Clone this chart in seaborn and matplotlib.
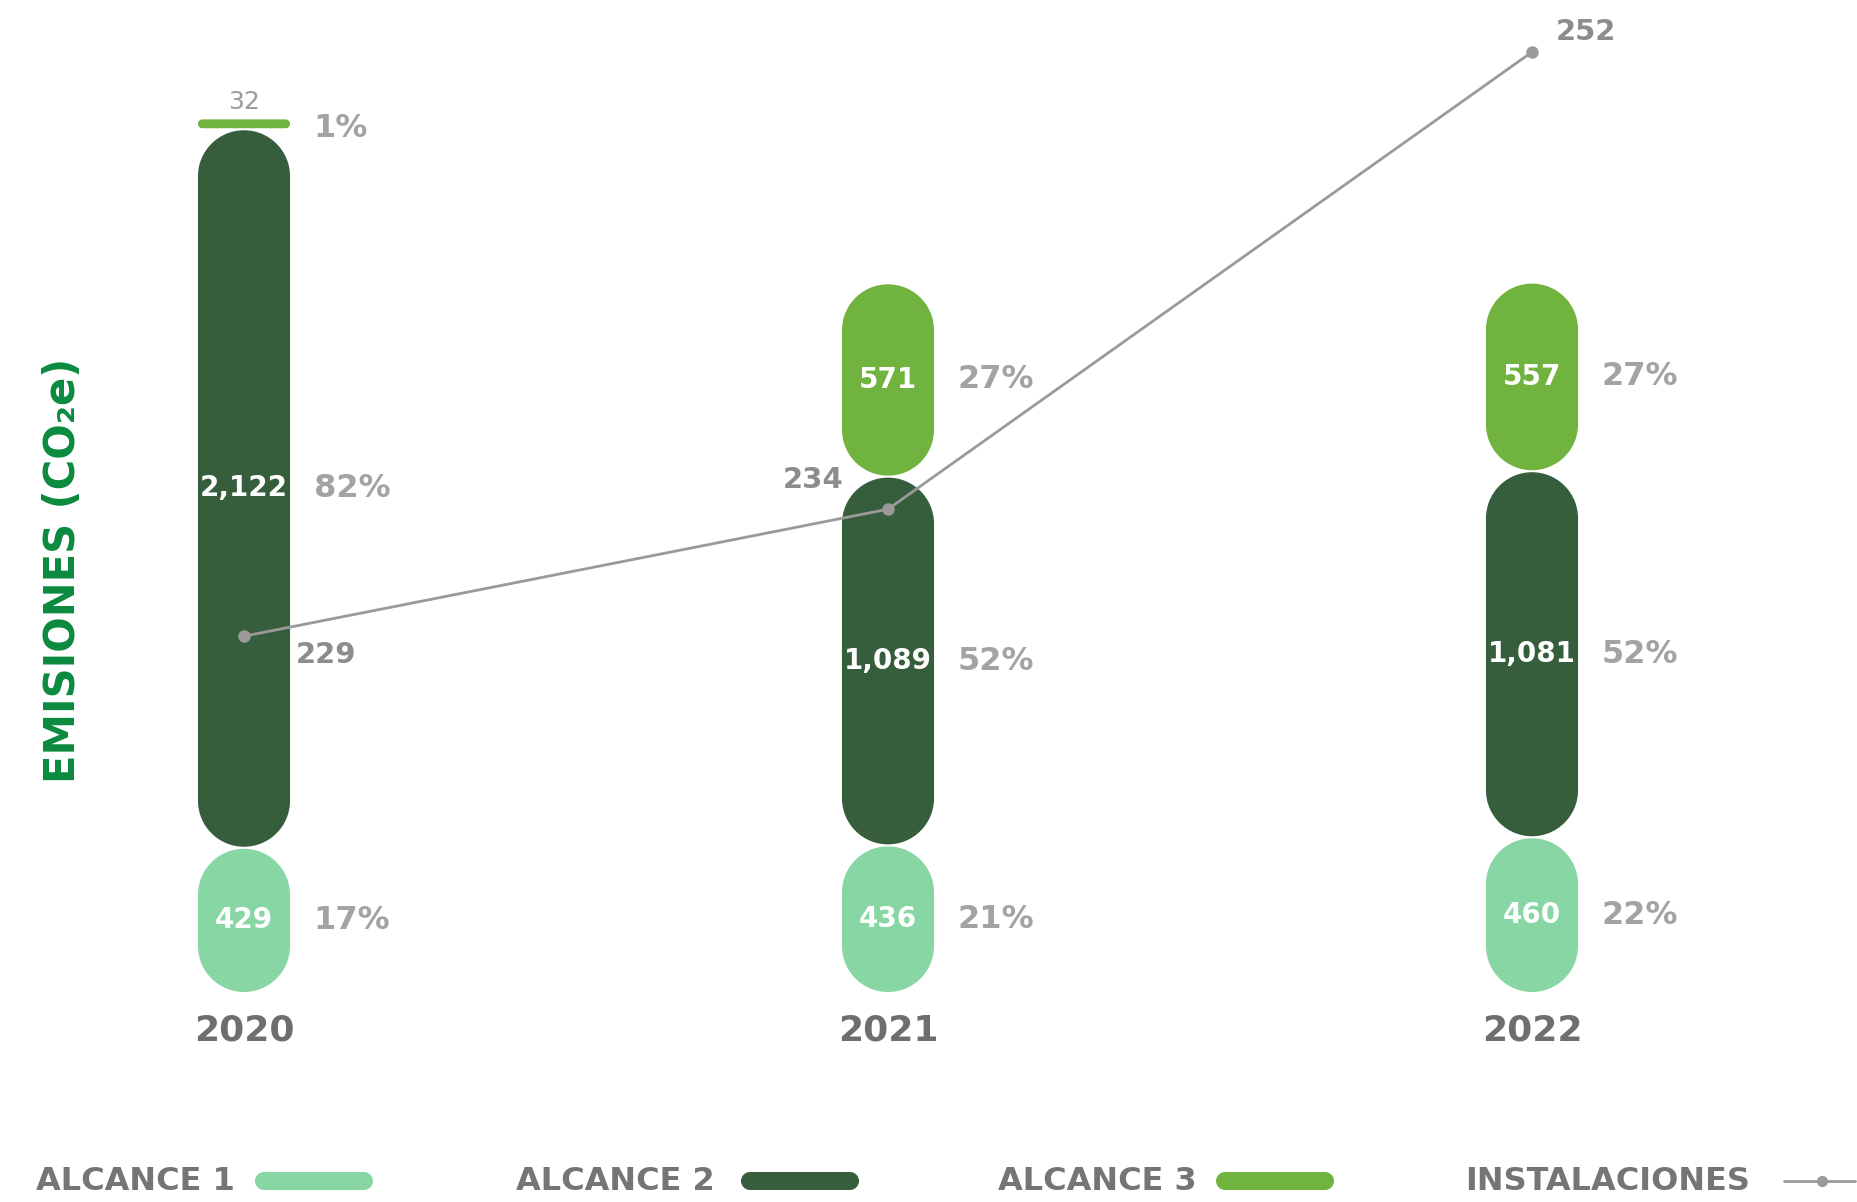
import numpy as np
import pandas as pd
import matplotlib
matplotlib.use("Agg")
import matplotlib.pyplot as plt
import seaborn as sns
from matplotlib.path import Path
from matplotlib.patches import PathPatch
from matplotlib.lines import Line2D
from matplotlib.transforms import IdentityTransform

# data
years = ["2020", "2021", "2022"]
alcance1 = [429, 436, 460]
alcance2 = [2122, 1089, 1081]
alcance3 = [32, 571, 557]
pct1 = ["17%", "21%", "22%"]
pct2 = ["82%", "52%", "52%"]
pct3 = ["1%", "27%", "27%"]
instalaciones = [229, 234, 252]

c1 = "#89d6a5"
c2 = "#365e3c"
c3 = "#70b43f"
line_gray = "#9a9a9a"

W, H = 1858, 1202
sns.set_theme(style="white")
plt.rcParams["font.family"] = ["DejaVu Sans"]


def pill_path(x0, y0, w, h):
    # rectangle with fully rounded ends (circular arcs)
    r = min(w, h) / 2
    k = 0.5523 * r
    x1, y1 = x0 + w, y0 + h
    verts = [
        (x0 + r, y0), (x1 - r, y0),
        (x1 - r + k, y0), (x1, y0 + r - k), (x1, y0 + r),
        (x1, y1 - r),
        (x1, y1 - r + k), (x1 - r + k, y1), (x1 - r, y1),
        (x0 + r, y1),
        (x0 + r - k, y1), (x0, y1 - r + k), (x0, y1 - r),
        (x0, y0 + r),
        (x0, y0 + r - k), (x0 + r - k, y0), (x0 + r, y0),
        (x0 + r, y0),
    ]
    C = Path.CURVE4
    codes = [Path.MOVETO, Path.LINETO, C, C, C, Path.LINETO, C, C, C,
             Path.LINETO, C, C, C, Path.LINETO, C, C, C, Path.CLOSEPOLY]
    return Path(verts, codes)


fig = plt.figure(figsize=(W / 100, H / 100), dpi=100)
ax = fig.add_axes([0, 209 / H, 1, 993 / H])

# stacked bars drawn as cumulative layers, top layer first
cum2 = [a + b for a, b in zip(alcance1, alcance2)]
cum3 = [a + b + c for a, b, c in zip(alcance1, alcance2, alcance3)]
layers = [(cum3, c3), (cum2, c2), (alcance1, c1)]
bar_w = 0.143
layer_rects = []
for vals, col in layers:
    n0 = len(ax.patches)
    sns.barplot(x=years, y=vals, color=col, width=bar_w, saturation=1, ax=ax)
    layer_rects.append(list(ax.patches[n0:]))

ax.set_xlim(-244 / 644, (W - 244) / 644)
ax.set_ylim(0, 993 / 0.3386)

# turn each stacked segment into a rounded pill
seg_vals = [alcance3, alcance2, alcance1]
seg_pcts = [pct3, pct2, pct1]
for li, rects in enumerate(layer_rects):
    col = layers[li][1]
    for i, rect in enumerate(rects):
        top = rect.get_height()
        bottom = layer_rects[li + 1][i].get_height() if li < 2 else 0
        x = rect.get_x()
        w = rect.get_width()
        rect.set_visible(False)
        px0, py0 = ax.transData.transform((x, bottom))
        px1, py1 = ax.transData.transform((x + w, top))
        pp = PathPatch(pill_path(px0, py0 + 1, px1 - px0, py1 - py0 - 2),
                       transform=IdentityTransform(), facecolor=col,
                       edgecolor="none", clip_on=False, zorder=2)
        ax.add_patch(pp)

        mid = (top + bottom) / 2
        cx = x + w / 2
        v = seg_vals[li][i]
        if v < 100:
            ax.annotate(f"{v:,}", (cx, top), xytext=(0, 4), textcoords="offset pixels",
                        ha="center", va="bottom", fontsize=18, color="#9a9a9a", zorder=3)
            ax.annotate(seg_pcts[li][i], (x + w + 0.037, mid), xytext=(0, -5),
                        textcoords="offset pixels", ha="left", va="center",
                        fontsize=23, fontweight="semibold", color="#a3a3a3", zorder=3)
        else:
            ax.text(cx, mid, f"{v:,}", ha="center", va="center", fontsize=20,
                    fontweight="bold", color="white", zorder=3)
            ax.text(x + w + 0.037, mid, seg_pcts[li][i], ha="left", va="center",
                    fontsize=23, fontweight="semibold", color="#a3a3a3", zorder=3)

ax.set_xticks([0, 1, 2])
ax.set_xticklabels(years, fontsize=26, fontweight="bold", color="#6e6e6e")
ax.tick_params(axis="x", length=0, pad=15)
ax.set_yticks([])
ax.set_xlabel("")
ax.set_ylabel("")
sns.despine(ax=ax, left=True, bottom=True)

# instalaciones line on a second scale
ax2 = ax.twinx()
sns.lineplot(x=[0, 1, 2], y=instalaciones, ax=ax2, color=line_gray, linewidth=2,
             marker="o", markersize=9, markeredgewidth=0)
ax2.set_ylim(252 - (993 - 52) / 25.4, 252 + 52 / 25.4)
ax2.set_yticks([])
ax2.set_ylabel("")
for s in ax2.spines.values():
    s.set_visible(False)
offsets = [((52, -19), "left"), ((-44, 29), "right"), ((24, 20), "left")]
for i, v in enumerate(instalaciones):
    off, ha = offsets[i]
    ax2.annotate(str(v), (i, v), xytext=off, textcoords="offset pixels", ha=ha,
                 va="center", fontsize=21, fontweight="bold", color="#8c8c8c")

# y title
fig.text(63 / W, 1 - 570 / H, "EMISIONES (CO₂e)", rotation=90, ha="center",
         va="center", fontsize=30, fontweight="bold", color="#0b8a3e")

# legend along the bottom
leg_y = 21
legend_items = [("ALCANCE 1", c1, 235, 255), ("ALCANCE 2", c2, 715, 741),
                ("ALCANCE 3", c3, 1197, 1216)]
for label, col, tx, px in legend_items:
    fig.text(tx / W, leg_y / H, label, ha="right", va="center", fontsize=23,
             fontweight="bold", color="#757575")
    fig.add_artist(PathPatch(pill_path(px, leg_y - 9, 118, 18),
                             transform=IdentityTransform(), facecolor=col,
                             edgecolor="none"))
fig.text(1750 / W, leg_y / H, "INSTALACIONES", ha="right", va="center", fontsize=23,
         fontweight="bold", color="#757575")
fig.add_artist(Line2D([1784, 1855], [leg_y, leg_y], transform=IdentityTransform(),
                      color=line_gray, linewidth=2))
fig.add_artist(Line2D([1822], [leg_y], transform=IdentityTransform(), color=line_gray,
                      marker="o", markersize=8, markeredgewidth=0, linestyle="none"))

fig.savefig("out.png", dpi=100)
